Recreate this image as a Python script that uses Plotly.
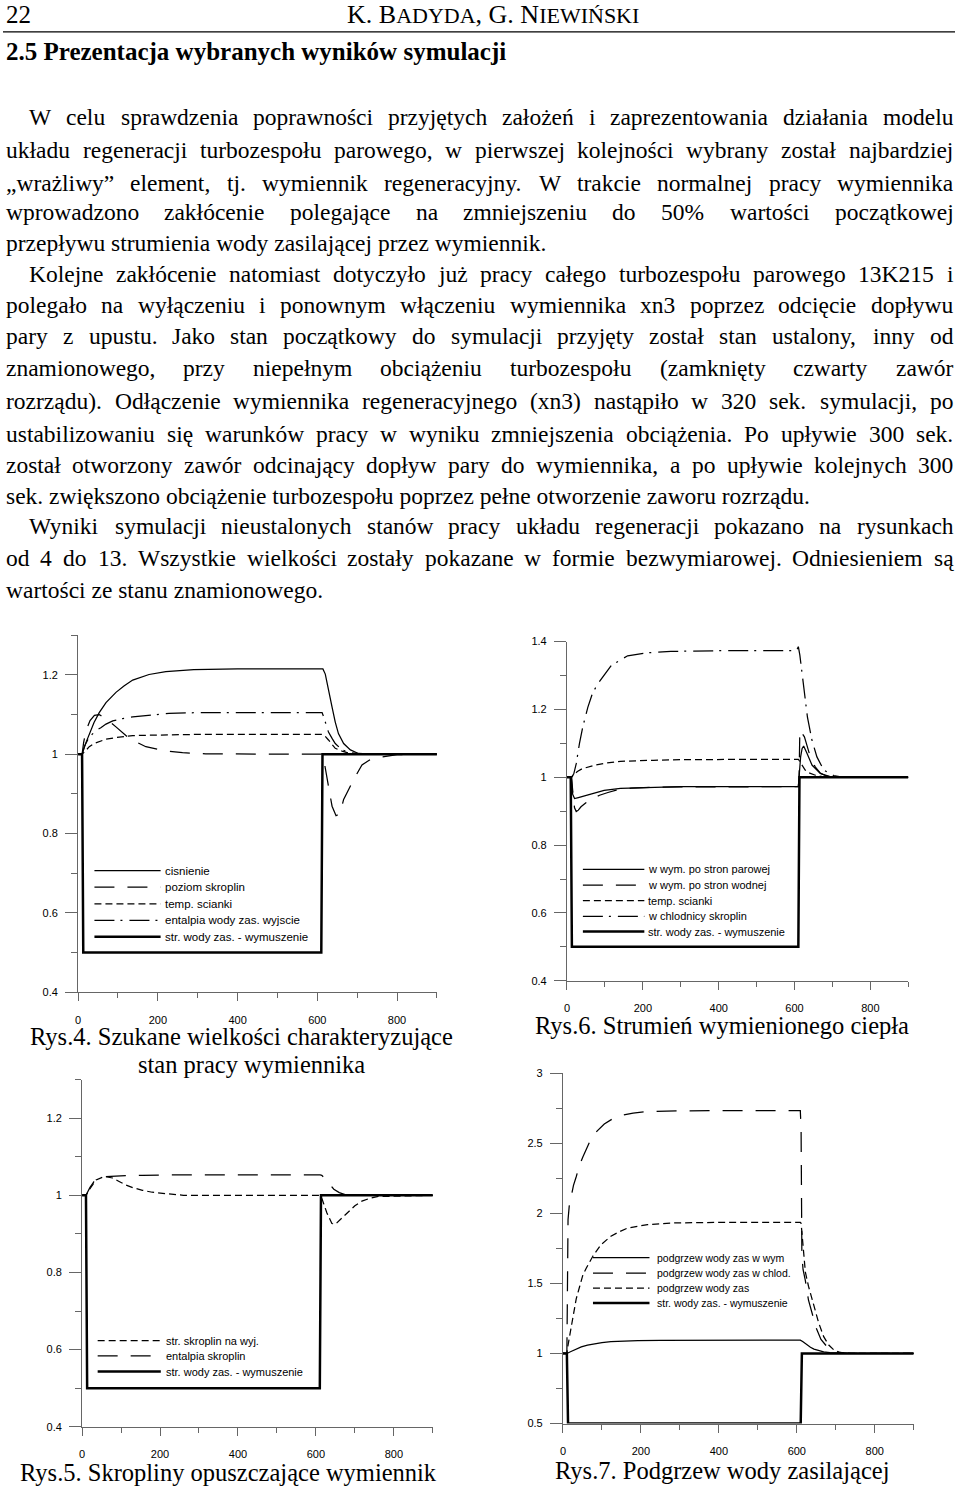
import plotly.graph_objects as go

W, H = 960, 1492

# ---------------------------------------------------------------- data
# forcing: feed-water flow (str. wody zas. - wymuszenie), same in all charts
t_force = [0, 10, 13, 610, 613, 900]
y_force = [1, 1, 0.5, 0.5, 1, 1]

# Rys.4
t4_cis = [0, 10, 20, 28, 40, 53, 70, 95, 115, 137, 160, 178, 220, 290, 400, 614, 620, 628, 637, 645, 653, 666, 683, 703, 737, 900]
y4_cis = [1, 1, 1.03, 1.05, 1.08, 1.105, 1.13, 1.156, 1.172, 1.187, 1.195, 1.201, 1.208, 1.213, 1.215, 1.215, 1.202, 1.16, 1.119, 1.081, 1.052, 1.027, 1.011, 1.002, 1.0, 1.0]
t4_poz = [0, 10, 14, 20, 30, 41, 53, 70, 95, 128, 170, 220, 262, 320, 614, 620, 628, 637, 647, 657, 666, 678, 691, 712, 730, 753, 800, 900]
y4_poz = [1, 1, 1.03, 1.06, 1.085, 1.098, 1.10, 1.09, 1.069, 1.04, 1.019, 1.008, 1.004, 1.001, 1.0, 0.969, 0.919, 0.869, 0.845, 0.85, 0.886, 0.91, 0.936, 0.973, 0.985, 0.992, 0.999, 1.0]
t4_tem = [0, 10, 20, 28, 40, 53, 70, 95, 137, 180, 220, 300, 612, 620, 628, 637, 645, 662, 679, 700, 900]
y4_tem = [1, 1, 1.01, 1.019, 1.027, 1.032, 1.038, 1.042, 1.047, 1.048, 1.049, 1.05, 1.05, 1.045, 1.036, 1.025, 1.015, 1.008, 1.003, 1.0, 1.0]
t4_ent = [0, 10, 16, 24, 35, 45, 57, 70, 87, 112, 137, 178, 228, 300, 612, 616, 622, 628, 637, 645, 662, 680, 720, 900]
y4_ent = [1, 1, 1.02, 1.036, 1.05, 1.06, 1.067, 1.076, 1.084, 1.09, 1.094, 1.098, 1.103, 1.105, 1.105, 1.094, 1.075, 1.056, 1.04, 1.027, 1.011, 1.004, 1.0, 1.0]

# Rys.6
t6_par = [0, 12, 15, 20, 30, 54, 98, 141, 228, 300, 610, 612, 616, 620, 624, 633, 646, 668, 694, 720, 900]
y6_par = [1, 1, 0.95, 0.937, 0.94, 0.948, 0.961, 0.967, 0.971, 0.9725, 0.9725, 1.0, 1.06, 1.085, 1.092, 1.07, 1.036, 1.011, 1.002, 1.0, 1.0]
t6_wod = [0, 12, 16, 20, 24.5, 30, 37, 50, 70, 86, 108, 130, 170, 230, 610, 612, 614, 620, 626, 635, 644, 655, 668, 685, 700, 900]
y6_wod = [1, 1, 0.95, 0.91, 0.899, 0.903, 0.913, 0.925, 0.938, 0.947, 0.955, 0.962, 0.968, 0.971, 0.9725, 1.0, 1.14, 1.13, 1.119, 1.085, 1.051, 1.03, 1.012, 1.003, 1.0, 1.0]
t6_tem = [0, 12, 18, 27.5, 40, 54, 75, 98, 141, 228, 300, 610, 614, 622, 628, 640, 655, 677, 700, 900]
y6_tem = [1, 1, 1.008, 1.017, 1.025, 1.03, 1.036, 1.041, 1.047, 1.05, 1.052, 1.053, 1.046, 1.03, 1.021, 1.012, 1.006, 1.001, 1.0, 1.0]
t6_chl = [0, 12, 18, 24.5, 33, 42, 55, 68, 86, 117, 160, 213, 274, 400, 605, 610, 614, 619, 628, 634, 646, 659, 677, 703, 730, 900]
y6_chl = [1, 1, 1.01, 1.04, 1.10, 1.15, 1.206, 1.25, 1.283, 1.33, 1.358, 1.367, 1.371, 1.373, 1.373, 1.385, 1.36, 1.314, 1.236, 1.177, 1.109, 1.06, 1.021, 1.005, 1.0, 1.0]

# Rys.5
t5_str = [0, 10, 19, 36, 57, 78, 95, 112, 130, 155, 180, 215, 260, 611, 616, 628, 641, 650, 658, 670, 684, 700, 718, 740, 760, 900]
y5_str = [1, 1, 1.015, 1.04, 1.049, 1.045, 1.036, 1.027, 1.02, 1.013, 1.008, 1.004, 1.0, 1.0, 0.99, 0.955, 0.927, 0.925, 0.933, 0.945, 0.959, 0.973, 0.985, 0.993, 0.997, 1.0]
t5_ent = [0, 10, 14, 20, 30, 40, 55, 80, 112, 155, 215, 611, 615, 622, 630, 638, 646, 660, 675, 690, 900]
y5_ent = [1, 1, 1.008, 1.02, 1.035, 1.043, 1.048, 1.05, 1.051, 1.052, 1.053, 1.053, 1.052, 1.045, 1.036, 1.026, 1.016, 1.007, 1.002, 1.0, 1.0]

# Rys.7
t7_wym = [0, 10, 22, 34, 47, 63, 81, 100, 123, 150, 192, 250, 609, 615, 626, 635, 644, 656, 669, 685, 703, 730, 900]
y7_wym = [1, 1, 1.016, 1.033, 1.047, 1.06, 1.07, 1.078, 1.085, 1.089, 1.092, 1.094, 1.095, 1.085, 1.059, 1.044, 1.031, 1.02, 1.012, 1.006, 1.002, 1.0, 1.0]
t7_chl = [0, 10, 11, 12, 13, 16, 21, 27, 34, 42, 51, 60, 72, 88, 106, 127, 149, 180, 217, 300, 609, 611, 612, 613, 616, 622, 630, 640, 650, 662, 680, 700, 730, 900]
y7_chl = [1, 1, 1.3, 1.7, 1.955, 2.05, 2.12, 2.2, 2.262, 2.34, 2.403, 2.46, 2.533, 2.59, 2.639, 2.675, 2.699, 2.717, 2.727, 2.733, 2.734, 2.6, 2.0, 1.7, 1.6, 1.52, 1.38, 1.27, 1.18, 1.10, 1.04, 1.01, 1.0, 1.0]
t7_zas = [0, 10, 13, 20, 27, 34, 43, 51, 60, 77, 98, 123, 145, 166, 217, 275, 350, 609, 611, 614, 618, 622, 630, 639, 648, 656, 669, 682, 695, 711, 740, 900]
y7_zas = [1, 1, 1.06, 1.17, 1.28, 1.39, 1.48, 1.56, 1.61, 1.696, 1.778, 1.837, 1.87, 1.896, 1.92, 1.931, 1.935, 1.936, 1.93, 1.82, 1.68, 1.58, 1.48, 1.39, 1.30, 1.22, 1.12, 1.06, 1.025, 1.007, 1.0, 1.0]

# labels
x_ticks = [0, 200, 400, 600, 800]
leg4 = ["cisnienie", "poziom skroplin", "temp. scianki", "entalpia wody zas. wyjscie", "str. wody zas. - wymuszenie"]
leg6 = ["w wym. po stron parowej", "w wym. po stron wodnej", "temp. scianki", "w chlodnicy skroplin", "str. wody zas. - wymuszenie"]
leg5 = ["str. skroplin na wyj.", "entalpia skroplin", "str. wody zas. - wymuszenie"]
leg7 = ["podgrzew wody zas w wym", "podgrzew wody zas w chlod.", "podgrzew wody zas", "str. wody zas. - wymuszenie"]

HEADER_NUM = "22"
HEADER_AUTH = "K. B<span style='font-size:22px'>ADYDA</span>, G. N<span style='font-size:22px'>IEWIŃSKI</span>"
TITLE = "2.5 Prezentacja wybranych wyników symulacji"
BODY = [
    "W celu sprawdzenia poprawności przyjętych założeń i zaprezentowania działania modelu",
    "układu regeneracji turbozespołu parowego, w pierwszej kolejności wybrany został najbardziej",
    "„wrażliwy” element, tj. wymiennik regeneracyjny. W trakcie normalnej pracy wymiennika",
    "wprowadzono zakłócenie polegające na zmniejszeniu do 50% wartości początkowej",
    "przepływu strumienia wody zasilającej przez wymiennik.",
    "Kolejne zakłócenie natomiast dotyczyło już pracy całego turbozespołu parowego 13K215 i",
    "polegało na wyłączeniu i ponownym włączeniu wymiennika xn3 poprzez odcięcie dopływu",
    "pary z upustu. Jako stan początkowy do symulacji przyjęty został stan ustalony, inny od",
    "znamionowego, przy niepełnym obciążeniu turbozespołu (zamknięty czwarty zawór",
    "rozrządu). Odłączenie wymiennika regeneracyjnego (xn3) nastąpiło w 320 sek. symulacji, po",
    "ustabilizowaniu się warunków pracy w wyniku zmniejszenia obciążenia. Po upływie 300 sek.",
    "został otworzony zawór odcinający dopływ pary do wymiennika, a po upływie kolejnych 300",
    "sek. zwiększono obciążenie turbozespołu poprzez pełne otworzenie zaworu rozrządu.",
    "Wyniki symulacji nieustalonych stanów pracy układu regeneracji pokazano na rysunkach",
    "od 4 do 13. Wszystkie wielkości zostały pokazane w formie bezwymiarowej. Odniesieniem są",
    "wartości ze stanu znamionowego.",
]
CAPTIONS = ["Rys.4. Szukane wielkości charakteryzujące", "stan pracy wymiennika",
            "Rys.6. Strumień wymienionego ciepła", "Rys.5. Skropliny opuszczające wymiennik",
            "Rys.7. Podgrzew wody zasilającej"]

# ---------------------------------------------------------------- layout helpers
def px(x):
    return x / W

def py(y):
    return 1 - y / H

SERIF = "Liberation Serif, Times New Roman, serif"
SANS = "Liberation Sans, Arial, sans-serif"

TW = {' ': 250, '!': 333, '%': 833, '(': 333, ')': 333, ',': 250, '-': 333, '.': 250, '/': 278, ':': 278, ';': 278,
      'A': 722, 'B': 667, 'C': 667, 'D': 722, 'E': 611, 'F': 556, 'G': 722, 'H': 722, 'I': 333, 'J': 389, 'K': 722,
      'L': 611, 'M': 889, 'N': 722, 'O': 722, 'P': 556, 'Q': 722, 'R': 667, 'S': 556, 'T': 611, 'U': 722, 'V': 722,
      'W': 944, 'X': 722, 'Y': 722, 'Z': 611,
      'a': 444, 'b': 500, 'c': 444, 'd': 500, 'e': 444, 'f': 333, 'g': 500, 'h': 500, 'i': 278, 'j': 278, 'k': 500,
      'l': 278, 'm': 778, 'n': 500, 'o': 500, 'p': 500, 'q': 500, 'r': 333, 's': 389, 't': 278, 'u': 500, 'v': 500,
      'w': 722, 'x': 500, 'y': 500, 'z': 444,
      'ą': 444, 'ć': 444, 'ę': 444, 'ł': 278, 'ń': 500, 'ó': 500, 'ś': 389, 'ź': 444, 'ż': 444,
      'Ł': 611, 'Ś': 556, 'Ż': 611, 'Ń': 722, 'Ó': 722, '„': 444, '”': 444}
for d in '0123456789':
    TW[d] = 500

def tw(s):
    return sum(TW.get(c, 500) for c in s) / 1000.0

annotations = []
shapes = []
PADL = 3   # compensation for the annotation box padding

def ann(text, x, y, size, xanchor='left', family=SERIF, xref='paper', yref='paper'):
    annotations.append(dict(text=text, x=x, y=y, xref=xref, yref=yref, xanchor=xanchor, yanchor='middle',
                            showarrow=False, borderpad=0, font=dict(family=family, size=size, color='black')))

def tpx(x):
    return px(x - PADL)

# header
ann(HEADER_NUM, tpx(5), py(9), 25)
ann(HEADER_AUTH, tpx(347), py(9), 26)
shapes.append(dict(type='line', xref='paper', yref='paper', x0=0, x1=px(955), y0=py(26), y1=py(26),
                   line=dict(color='black', width=1.2)))
ann("<b>" + TITLE + "</b>", tpx(5), py(46), 25)

# body text (justified)
FS = 23.5
LINE_Y = [112, 145, 178, 208, 239, 270, 301, 333, 365, 398, 431, 463, 494, 524, 556, 589]
PARA_START = {0, 5, 13}
PARA_END = {4, 12, 15}
LM, RM, IND = 5, 955, 28
for i, line in enumerate(BODY):
    left = IND if i in PARA_START else LM
    y = py(LINE_Y[i])
    if i in PARA_END:
        ann(line, tpx(left), y, FS)
        continue
    words = line.split(' ')
    ws = [tw(w) * FS for w in words]
    gap = (RM - left - sum(ws)) / (len(words) - 1)
    x = left
    for w, wd in zip(words, ws):
        ann(w, tpx(x), y, FS)
        x += wd + gap

# captions
ann(CAPTIONS[0], px(239), py(1039), 24.5, 'center')
ann(CAPTIONS[1], px(249), py(1067), 24.5, 'center')
ann(CAPTIONS[2], px(721), py(1028), 24.5, 'center')
ann(CAPTIONS[3], px(226), py(1478), 24.5, 'center')
ann(CAPTIONS[4], px(721), py(1476), 24.5, 'center')

# ---------------------------------------------------------------- figure
fig = go.Figure()

THIN, THICK = 1.25, 2.5
D_LONG = "20px,13px"
D_SHORT = "7px,4px"
D_DOT = "20px,6px,2px,7px"
AX = '#666666'

panels = {
    1: dict(x0=75.3, x1=435.3, yt=634.3, yb=994.3, yr=[0.4, 1.3], dt=0.2, mdt=0.1, t0=0.4),
    2: dict(x0=565.7, x1=908.2, yt=640.7, yb=982.7, yr=[0.4, 1.4], dt=0.2, mdt=0.1, t0=0.4),
    3: dict(x0=79.3, x1=431.2, yt=1082.3, yb=1432.3, yr=[0.4, 1.3], dt=0.2, mdt=0.1, t0=0.4),
    4: dict(x0=561.7, x1=913.6, yt=1076.0, yb=1429.0, yr=[0.5, 3.0], dt=0.5, mdt=0.25, t0=0.5),
}
layout_axes = {}
for k, p in panels.items():
    sfx = '' if k == 1 else str(k)
    eps = (p['yr'][1] - p['yr'][0]) * 1e-4
    layout_axes['xaxis' + sfx] = dict(
        domain=[px(p['x0']), px(p['x1'])], anchor='y' + sfx, range=[-0.05, 900.05],
        tickmode='array', tickvals=x_ticks, ticks='outside', ticklen=8, tickwidth=1, tickcolor=AX,
        ticklabelstandoff=9,
        minor=dict(ticks='outside', ticklen=5, tickwidth=1, tickcolor=AX, tickmode='linear', tick0=0, dtick=100),
        showline=True, linecolor=AX, linewidth=1, showgrid=False, zeroline=False,
        tickfont=dict(family=SANS, size=11, color='black'), fixedrange=True)
    layout_axes['yaxis' + sfx] = dict(
        domain=[py(p['yb']), py(p['yt'])], anchor='x' + sfx, range=[p['yr'][0] - eps, p['yr'][1] + eps],
        tickmode='linear', tick0=p['t0'], dtick=p['dt'], ticks='outside', ticklen=12, tickwidth=1, tickcolor=AX,
        ticklabelstandoff=5,
        minor=dict(ticks='outside', ticklen=6, tickwidth=1, tickcolor=AX, tickmode='linear', tick0=p['t0'], dtick=p['mdt']),
        showline=True, linecolor=AX, linewidth=1, showgrid=False, zeroline=False,
        tickfont=dict(family=SANS, size=11, color='black'), fixedrange=True)

def add(k, t, y, dash, width, name):
    sfx = '' if k == 1 else str(k)
    fig.add_trace(go.Scatter(x=t, y=y, mode='lines', name=name, hoverinfo='skip',
                             line=dict(color='black', width=width, dash=dash),
                             xaxis='x' + sfx, yaxis='y' + sfx))

def legend(k, labels, styles, xs0, xs1, xt, ys, size):
    sfx = '' if k == 1 else str(k)
    for lab, (dash, width), y in zip(labels, styles, ys):
        shapes.append(dict(type='line', xref='x' + sfx, yref='y' + sfx, x0=xs0, x1=xs1, y0=y, y1=y,
                           line=dict(color='black', width=width, dash=dash)))
        ann(lab, xt, y, size, 'left', SANS, 'x' + sfx, 'y' + sfx)

# Rys.4
st4 = [('solid', THIN), (D_LONG, THIN), (D_SHORT, THIN), (D_DOT, THIN), ('solid', THICK)]
add(1, t4_cis, y4_cis, st4[0][0], THIN, leg4[0])
add(1, t4_poz, y4_poz, st4[1][0], THIN, leg4[1])
add(1, t4_tem, y4_tem, st4[2][0], THIN, leg4[2])
add(1, t4_ent, y4_ent, st4[3][0], THIN, leg4[3])
add(1, t_force, y_force, 'solid', THICK, leg4[4])
legend(1, leg4, st4, 41, 207, 215, [0.7065, 0.665, 0.623, 0.5815, 0.54], 11.5)

# Rys.6
st6 = [('solid', THIN), (D_LONG, THIN), (D_SHORT, THIN), (D_DOT, THIN), ('solid', THICK)]
add(2, t6_par, y6_par, st6[0][0], THIN, leg6[0])
add(2, t6_wod, y6_wod, st6[1][0], THIN, leg6[1])
add(2, t6_tem, y6_tem, st6[2][0], THIN, leg6[2])
add(2, t6_chl, y6_chl, st6[3][0], THIN, leg6[3])
add(2, t_force, y_force, 'solid', THICK, leg6[4])
legend(2, leg6, st6, 42, 204, 212, [0.7286, 0.682, 0.636, 0.59, 0.545], 11)

# Rys.5
st5 = [(D_SHORT, THIN), (D_LONG, THIN), ('solid', THICK)]
add(3, t5_str, y5_str, st5[0][0], THIN, leg5[0])
add(3, t5_ent, y5_ent, st5[1][0], THIN, leg5[1])
add(3, t_force, y_force, 'solid', THICK, leg5[2])
legend(3, leg5, st5, 40, 202, 214, [0.623, 0.5835, 0.543], 11)

# Rys.7
st7 = [('solid', THIN), (D_LONG, THIN), (D_SHORT, THIN), ('solid', THICK)]
add(4, t7_wym, y7_wym, st7[0][0], THIN, leg7[0])
add(4, t7_chl, y7_chl, st7[1][0], THIN, leg7[1])
add(4, t7_zas, y7_zas, st7[2][0], THIN, leg7[2])
add(4, t_force, y_force, 'solid', THICK, leg7[3])
legend(4, leg7, st7, 77, 222, 238, [1.684, 1.573, 1.467, 1.361], 10.5)

fig.update_layout(width=W, height=H, margin=dict(l=0, r=0, t=0, b=0), showlegend=False,
                  paper_bgcolor='white', plot_bgcolor='white',
                  annotations=annotations, shapes=shapes, **layout_axes)
fig.write_html("out.html")
